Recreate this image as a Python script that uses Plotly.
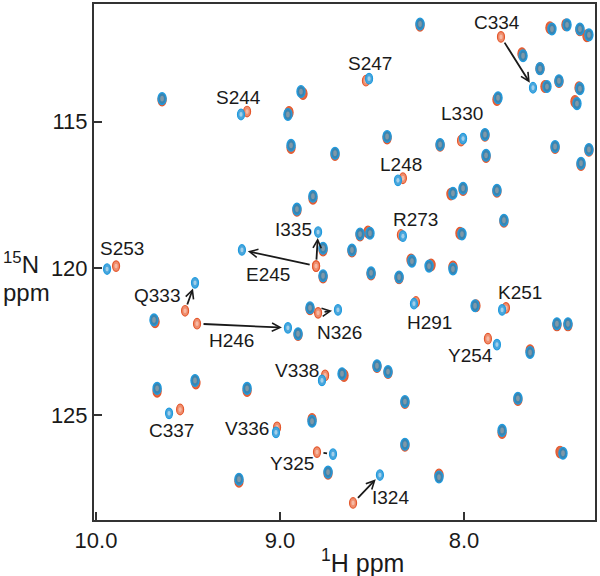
import plotly.graph_objects as go

# ---------------- data (ppm) ----------------
# Labelled residues: free (blue) and bound (red) peak positions
residues = ["S244", "S247", "C334", "L330", "L248", "R273", "I335", "E245", "S253", "Q333",
            "H246", "N326", "H291", "K251", "Y254", "V338", "C337", "V336", "Y325", "I324"]
res_blue_h = [9.212, 8.516, 7.625, 8.005, 8.359, 8.332, 8.793, 9.207, 9.940, 9.462,
              8.957, 8.685, 8.272, 7.793, 7.821, 8.772, 9.603, 9.022, 8.712, 8.457]
res_blue_n = [114.76, 113.54, 113.85, 115.58, 117.00, 118.90, 118.76, 119.37, 120.02, 120.49,
              122.02, 121.41, 121.20, 121.41, 122.59, 123.81, 124.93, 125.58, 126.32, 127.03]
res_red_h = [9.179, 8.533, 7.799, 8.016, 8.332, 8.343, 8.804, 8.804, 9.891, 9.516,
             9.451, 8.793, 8.261, 7.772, 7.870, 8.755, 9.543, 9.016, 8.799, 8.603]
res_red_n = [114.66, 113.61, 112.12, 115.65, 116.93, 118.86, 119.92, 119.92, 119.92, 121.44,
             121.88, 121.51, 121.14, 121.34, 122.39, 123.64, 124.80, 125.41, 126.25, 127.98]
# residues whose shift is marked with an arrow
arrow_res = ["C334", "Q333", "H246", "E245", "I335", "N326", "I324"]
line_res = ["Y325"]

# Unlabelled peaks (blue = free, red = bound)
peak_blue_h = [9.641, 8.886, 8.957, 8.940, 8.701, 8.418, 8.821, 8.239, 7.679, 7.587,
               7.522, 7.440, 7.370, 7.321, 7.549, 7.484, 7.370, 7.386, 7.815, 8.130,
               7.886, 7.880, 7.505, 7.321, 7.364, 8.060, 8.005, 7.821, 9.685, 9.668,
               9.462, 8.908, 8.766, 8.766, 8.609, 8.565, 8.511, 8.505, 8.353, 8.837,
               8.902, 8.663, 8.473, 8.413, 9.179, 8.011, 7.783, 8.283, 8.190, 8.060,
               7.940, 7.495, 7.435, 7.641, 7.707, 8.321, 8.826, 8.739, 9.223, 7.793,
               8.321, 7.462, 8.136]
peak_blue_n = [114.22, 113.98, 114.76, 115.81, 116.08, 115.51, 117.54, 111.68, 112.76, 113.20,
               111.85, 111.71, 111.85, 112.05, 113.81, 113.61, 113.88, 114.39, 114.19, 115.78,
               115.44, 116.15, 115.85, 115.95, 116.42, 117.44, 117.27, 117.34, 121.75, 124.08,
               123.81, 117.98, 119.31, 120.25, 119.37, 118.83, 118.80, 120.15, 120.29, 121.34,
               122.22, 123.58, 123.31, 123.51, 124.08, 118.83, 118.36, 119.75, 119.92, 120.02,
               121.27, 121.88, 121.88, 122.86, 124.42, 124.53, 125.20, 126.93, 127.17, 125.51,
               125.98, 126.29, 127.10]
peak_red_h = [9.641, 8.875, 8.951, 8.940, 8.701, 8.418, 8.821, 8.239, 7.685, 7.587,
              7.533, 7.446, 7.370, 7.332, 7.560, 7.484, 7.375, 7.397, 7.821, 8.130,
              7.886, 7.880, 7.505, 7.321, 7.364, 8.071, 8.005, 7.821, 9.679, 9.668,
              9.457, 8.908, 8.766, 8.766, 8.609, 8.565, 8.522, 8.505, 8.353, 8.837,
              8.902, 8.652, 8.473, 8.413, 9.179, 8.022, 7.783, 8.288, 8.179, 8.060,
              7.935, 7.495, 7.435, 7.641, 7.707, 8.321, 8.826, 8.739, 9.223, 7.793,
              8.321, 7.478, 8.136]
peak_red_n = [114.27, 114.05, 114.69, 115.88, 116.12, 115.56, 117.61, 111.72, 112.69, 113.20,
              111.81, 111.71, 111.88, 112.08, 113.81, 113.64, 113.85, 114.32, 114.25, 115.81,
              115.47, 116.19, 115.88, 115.98, 116.46, 117.47, 117.31, 117.37, 121.81, 124.18,
              123.90, 118.02, 119.37, 120.29, 119.41, 118.86, 118.76, 120.19, 120.32, 121.37,
              122.25, 123.64, 123.34, 123.54, 124.15, 118.80, 118.39, 119.71, 119.88, 119.95,
              121.27, 121.92, 121.92, 122.80, 124.46, 124.56, 125.14, 126.97, 127.24, 125.58,
              126.02, 126.25, 127.03]

x_ticks = [10.0, 9.0, 8.0]
x_tick_text = ["10.0", "9.0", "8.0"]
y_ticks = [115, 120, 125]
y_tick_text = ["115", "120", "125"]

# ---------------- layout constants ----------------
X_RANGE = [10.011, 7.288]
Y_RANGE = [128.56, 111.0]
RX, RY = 0.022, 0.20        # peak ellipse half-axes (ppm)
RX_S, RY_S = 0.019, 0.18    # shifted (labelled) peaks
FONT = "Arial, Liberation Sans, sans-serif"

# label text positions (ppm)
label_pos = {
    "S244": (9.223, 114.19), "S247": (8.511, 113.03), "C334": (7.821, 111.64),
    "L330": (8.011, 114.73), "L248": (8.342, 116.46), "R273": (8.266, 118.32),
    "I335": (8.929, 118.69), "E245": (9.065, 120.19), "S253": (9.859, 119.31),
    "Q333": (9.668, 120.93), "H246": (9.261, 122.46), "N326": (8.674, 122.19),
    "H291": (8.185, 121.85), "K251": (7.696, 120.83), "Y254": (7.967, 122.97),
    "V338": (8.908, 123.47), "C337": (9.592, 125.51), "V336": (9.179, 125.44),
    "Y325": (8.935, 126.63), "I324": (8.397, 127.81),
}


def ellipse(h, n, rx, ry, fill, line, lw):
    return dict(type="circle", xref="x", yref="y",
                x0=h - rx, x1=h + rx, y0=n - ry, y1=n + ry,
                fillcolor=fill, line=dict(color=line, width=lw), layer="above")


shapes = []
# red (bound) peaks first
for h, n in zip(peak_red_h, peak_red_n):
    shapes.append(ellipse(h, n, RX, RY, "#df6a45", "#e4572c", 1.2))
for h, n in zip(res_red_h, res_red_n):
    shapes.append(ellipse(h, n, RX_S, RY_S, "#ef8e6e", "#e4572c", 1.2))
    shapes.append(ellipse(h, n, RX_S * 0.45, RY_S * 0.45, "#f6b9a4", "rgba(0,0,0,0)", 0))
# blue (free) peaks on top
for h, n in zip(peak_blue_h, peak_blue_n):
    shapes.append(ellipse(h, n, RX, RY, "#3a84b0", "#1f9ade", 1.3))
    shapes.append(ellipse(h, n, RX * 0.45, RY * 0.5, "#7f98a8", "rgba(0,0,0,0)", 0))
for h, n in zip(res_blue_h, res_blue_n):
    shapes.append(ellipse(h, n, RX_S, RY_S, "#4aa6dc", "#1f9ade", 1.2))
    shapes.append(ellipse(h, n, RX_S * 0.45, RY_S * 0.45, "#a3cfe9", "rgba(0,0,0,0)", 0))

fig = go.Figure()
# invisible trace to anchor the axes
fig.add_trace(go.Scatter(x=peak_blue_h, y=peak_blue_n, mode="markers",
                         marker=dict(size=1, color="rgba(0,0,0,0)"),
                         hoverinfo="skip", showlegend=False))

annotations = []
for r, (lh, ln) in label_pos.items():
    annotations.append(dict(x=lh, y=ln, xref="x", yref="y", text=r, showarrow=False,
                            xanchor="center", yanchor="middle",
                            font=dict(size=19, color="#1a1a1a", family=FONT)))

idx = {r: i for i, r in enumerate(residues)}
for r in arrow_res + line_res:
    i = idx[r]
    annotations.append(dict(x=res_blue_h[i], y=res_blue_n[i], ax=res_red_h[i], ay=res_red_n[i],
                            xref="x", yref="y", axref="x", ayref="y", text="",
                            showarrow=True, arrowhead=0 if r in line_res else 5,
                            arrowsize=0.9, arrowwidth=1.8, arrowcolor="#1a1a1a",
                            standoff=6, startstandoff=5))

# y-axis title (two lines, horizontal)
annotations.append(dict(x=-0.146, y=0.499, xref="paper", yref="paper",
                        text="<sup>15</sup>N", showarrow=False,
                        xanchor="center", yanchor="middle",
                        font=dict(size=24, color="#1a1a1a", family=FONT)))
annotations.append(dict(x=-0.135, y=0.441, xref="paper", yref="paper",
                        text="ppm", showarrow=False,
                        xanchor="center", yanchor="middle",
                        font=dict(size=24, color="#1a1a1a", family=FONT)))
# x-axis title
annotations.append(dict(x=0.535, y=-0.079, xref="paper", yref="paper",
                        text="<sup>1</sup>H ppm", showarrow=False,
                        xanchor="center", yanchor="middle",
                        font=dict(size=25, color="#1a1a1a", family=FONT)))

axis_common = dict(showgrid=False, zeroline=False, showline=True, linecolor="#333333",
                   linewidth=2, mirror=True, ticks="inside", ticklen=8, tickwidth=2,
                   tickcolor="#333333",
                   tickfont=dict(size=22, color="#1a1a1a", family=FONT))

fig.update_layout(
    width=600, height=576,
    margin=dict(l=94, r=5, t=2, b=56),
    paper_bgcolor="white", plot_bgcolor="white",
    shapes=shapes, annotations=annotations, showlegend=False,
    xaxis=dict(range=X_RANGE, tickvals=x_ticks, ticktext=x_tick_text, **axis_common),
    yaxis=dict(range=Y_RANGE, tickvals=y_ticks, ticktext=y_tick_text, **axis_common),
)

fig.write_html("out.html", config={"displayModeBar": False},
               post_script="document.body.style.margin='0px';document.body.style.overflow='hidden';")
